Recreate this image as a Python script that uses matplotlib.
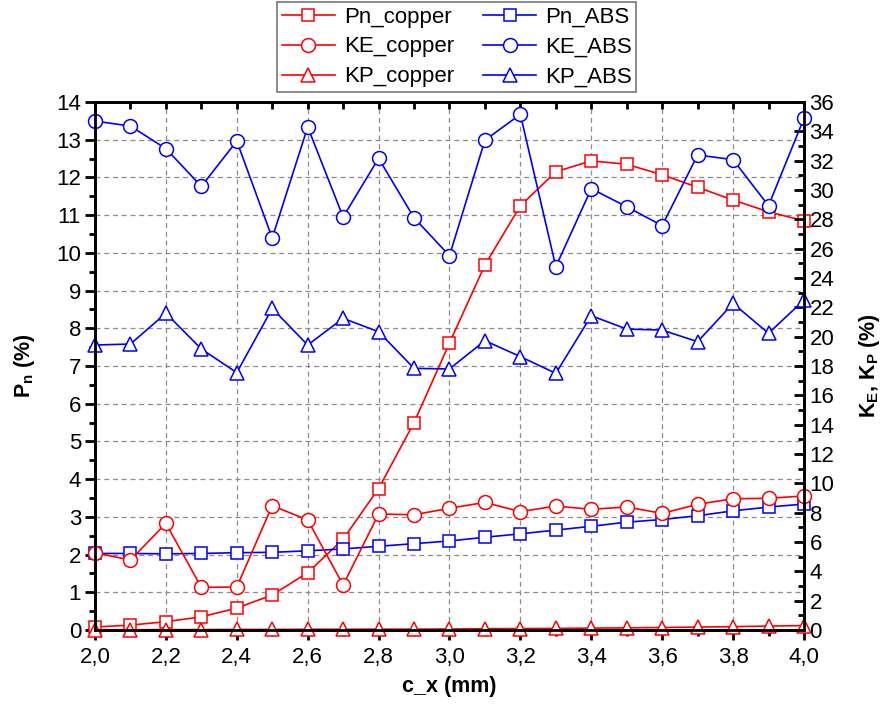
import numpy as np
import matplotlib
matplotlib.use('Agg')
import matplotlib.pyplot as plt
from matplotlib.ticker import MultipleLocator, FuncFormatter

plt.rcParams['font.family'] = ['Liberation Sans', 'DejaVu Sans']
plt.rcParams['mathtext.fontset'] = 'custom'
plt.rcParams['mathtext.rm'] = 'Liberation Sans'
plt.rcParams['mathtext.bf'] = 'Liberation Sans:bold'

# data
c_x = [2.0, 2.1, 2.2, 2.3, 2.4, 2.5, 2.6, 2.7, 2.8, 2.9, 3.0,
       3.1, 3.2, 3.3, 3.4, 3.5, 3.6, 3.7, 3.8, 3.9, 4.0]

# left axis, Pn (%)
pn_copper = [0.08, 0.13, 0.22, 0.35, 0.58, 0.93, 1.52, 2.41, 3.75, 5.5, 7.61,
             9.68, 11.25, 12.15, 12.44, 12.35, 12.07, 11.74, 11.40, 11.09, 10.85]
pn_abs = [2.03, 2.03, 2.02, 2.03, 2.05, 2.06, 2.10, 2.15, 2.22, 2.29, 2.36,
          2.46, 2.55, 2.65, 2.75, 2.86, 2.93, 3.03, 3.16, 3.26, 3.34]

# right axis, KE / KP (%)
ke_copper = [5.27, 4.77, 7.27, 2.91, 2.93, 8.48, 7.5, 3.07, 7.91, 7.86, 8.3,
             8.7, 8.07, 8.45, 8.23, 8.39, 7.95, 8.57, 8.95, 8.98, 9.14]
kp_copper = [0.02, 0.02, 0.03, 0.03, 0.04, 0.04, 0.05, 0.05, 0.06, 0.06, 0.07,
             0.09, 0.1, 0.11, 0.13, 0.15, 0.17, 0.2, 0.23, 0.27, 0.3]
ke_abs = [34.7, 34.36, 32.82, 30.25, 33.34, 26.73, 34.3, 28.16, 32.16, 28.11, 25.52,
          33.4, 35.16, 24.77, 30.09, 28.86, 27.57, 32.39, 32.07, 28.93, 34.89]
kp_abs = [19.43, 19.5, 21.6, 19.16, 17.55, 21.93, 19.43, 21.25, 20.34, 17.84, 17.8,
          19.73, 18.64, 17.5, 21.43, 20.52, 20.45, 19.66, 22.27, 20.23, 22.5]

RED = '#FF0000'
BLUE = '#0000FF'

fig = plt.figure(figsize=(8.92, 7.09), dpi=100)
ax1 = fig.add_axes([0.1065, 0.1114, 0.7948, 0.7447])
ax2 = ax1.twinx()

style = dict(linewidth=1.2, markerfacecolor='white', markeredgewidth=1.1)

h1, = ax1.plot(c_x, pn_copper, color=RED, marker='s', markersize=8.5,
               markeredgecolor=RED, label='Pn_copper', clip_on=False, **style)
h4, = ax1.plot(c_x, pn_abs, color=BLUE, marker='s', markersize=8.5,
               markeredgecolor=BLUE, label='Pn_ABS', clip_on=False, **style)
h2, = ax2.plot(c_x, ke_copper, color=RED, marker='o', markersize=10,
               markeredgecolor=RED, label='KE_copper', clip_on=False, **style)
h3, = ax2.plot(c_x, kp_copper, color=RED, marker='^', markersize=10,
               markeredgecolor=RED, label='KP_copper', clip_on=False, **style)
h5, = ax2.plot(c_x, ke_abs, color=BLUE, marker='o', markersize=10,
               markeredgecolor=BLUE, label='KE_ABS', clip_on=False, **style)
h6, = ax2.plot(c_x, kp_abs, color=BLUE, marker='^', markersize=10,
               markeredgecolor=BLUE, label='KP_ABS', clip_on=False, **style)

ax1.set_xlim(2.0, 4.0)
ax1.set_ylim(0, 14)
ax2.set_ylim(0, 36)

ax1.xaxis.set_major_locator(MultipleLocator(0.2))
ax1.xaxis.set_minor_locator(MultipleLocator(0.1))
ax1.yaxis.set_major_locator(MultipleLocator(1))
ax1.yaxis.set_minor_locator(MultipleLocator(0.5))
ax2.yaxis.set_major_locator(MultipleLocator(2))
ax2.yaxis.set_minor_locator(MultipleLocator(1))

comma = FuncFormatter(lambda v, p: f'{v:.1f}'.replace('.', ','))
ax1.xaxis.set_major_formatter(comma)

ax1.grid(True, which='major', color='#8c8c8c', linestyle=(0, (4, 3)), linewidth=0.9)
ax1.set_axisbelow(True)

for ax in (ax1, ax2):
    for s in ax.spines.values():
        s.set_linewidth(2)
    ax.set_facecolor('none')

ax1.tick_params(axis='x', which='major', direction='out', length=7, width=2,
                labelsize=16, pad=5, top=True)
ax1.tick_params(axis='x', which='minor', direction='out', length=4, width=2, top=True)
ax1.tick_params(axis='y', which='major', direction='out', length=7, width=2,
                labelsize=16, pad=3)
ax1.tick_params(axis='y', which='minor', direction='out', length=4, width=2)
ax2.tick_params(axis='y', which='major', direction='in', length=7, width=2,
                labelsize=16, pad=4)
ax2.tick_params(axis='y', which='minor', direction='in', length=4, width=2)

# top ticks point inward
for t in ax1.xaxis.get_major_ticks() + ax1.xaxis.get_minor_ticks():
    t.tick2line.set_marker(matplotlib.lines.TICKDOWN)
    t.tick2line.set_markersize(5)

ax1.set_xlabel('c_x (mm)', fontsize=15.5, fontweight='bold', labelpad=6)
ax1.set_ylabel(r'$\mathbf{P_n}$ (%)', fontsize=15.5, fontweight='bold', labelpad=14)
ax2.set_ylabel(r'$\mathbf{K_E}$, $\mathbf{K_P}$ (%)', fontsize=15.5,
               fontweight='bold', labelpad=16)

leg = fig.legend(handles=[h1, h2, h3, h4, h5, h6], ncol=2, loc='upper center',
                 bbox_to_anchor=(0.512, 0.997), fontsize=16, frameon=True,
                 fancybox=False, edgecolor='#555555', handlelength=2.4,
                 columnspacing=1.3, labelspacing=0.4, borderpad=0.2,
                 handletextpad=0.4, borderaxespad=0)
leg.get_frame().set_linewidth(1.2)

fig.savefig('out.png', dpi=100)
